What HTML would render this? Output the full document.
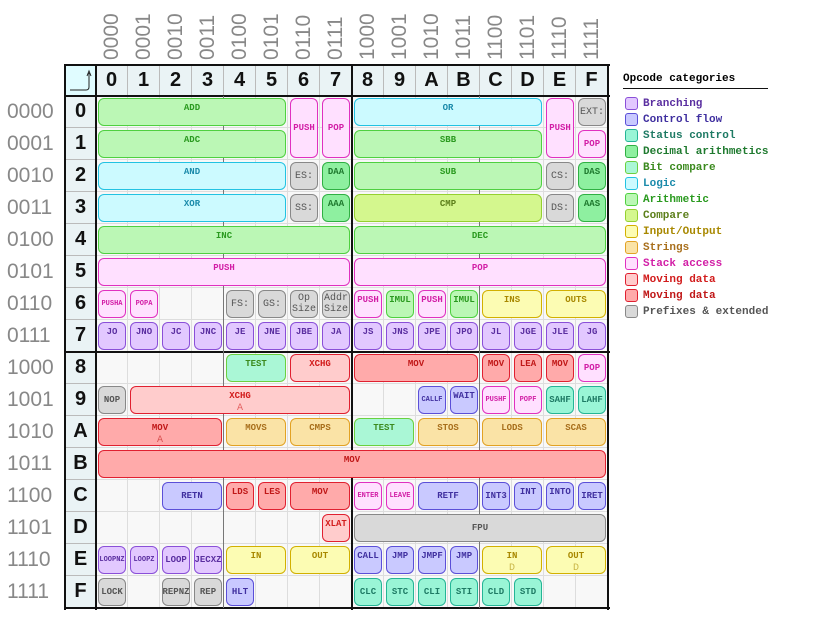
<!DOCTYPE html>
<html><head><meta charset="utf-8">
<style>
body{margin:0;width:816px;height:624px;background:#fff;position:relative;overflow:hidden;font-family:"Liberation Sans",sans-serif}
.abs{position:absolute}
.bin{position:absolute;color:#888;font-size:21px;font-family:"Liberation Sans",sans-serif}
.hd{position:absolute;background:#eaf3f5;border-right:1px solid #bbb;box-sizing:border-box;font-weight:bold;font-size:20px;display:flex;align-items:center;justify-content:center;color:#111}
.cell{position:absolute;width:32px;height:32px;box-sizing:border-box;border-right:1px solid #ddd;border-bottom:1px solid #ddd;background:#f8f8f8}
.box{position:absolute;box-sizing:border-box;border:1.5px solid;border-radius:6px;font-family:"Liberation Mono",monospace;font-weight:bold;font-size:9px;display:flex;flex-direction:column;align-items:center;text-align:center;line-height:11px}
.sub{font-weight:normal;font-size:10px;opacity:.6;margin-top:1px}
.leg{position:absolute;left:625px;font-family:"Liberation Mono",monospace;font-weight:bold;font-size:11px;display:flex;align-items:center}
.sw{width:11px;height:11px;border:1.5px solid;border-radius:3px;margin-right:5px}
</style></head><body>
<div id="root"></div>
<script>
const hexDigits=['0','1','2','3','4','5','6','7','8','9','A','B','C','D','E','F'];
const binLabels=['0000','0001','0010','0011','0100','0101','0110','0111','1000','1001','1010','1011','1100','1101','1110','1111'];
const catNames=['Branching','Control flow','Status control','Decimal arithmetics','Bit compare','Logic','Arithmetic','Compare','Input/Output','Strings','Stack access','Moving data','Moving data','Prefixes & extended'];
const catFill=['#e2c8ff','#c9c9ff','#99f5d6','#8ef0a0','#aaf7d6','#ccfaff','#bbf7b5','#d4f78e','#fcfcb3','#fae3a6','#ffe0ff','#ffcccc','#ffaaaa','#d9d9d9'];
const catBorder=['#8a4fd8','#5b4fd8','#25b596','#2fb043','#6ad040','#22c2e2','#4fd040','#95d030','#d2b000','#e2a224','#e030c0','#e02030','#e02030','#888888'];
const catText=['#5a2ea0','#4030a0','#1e7a64','#1f7a2f','#3b8a1e','#1a8aaa','#2a9a1f','#5c7f1a','#a88800','#a86f1c','#d21ea6','#d21c1c','#c01818','#555555'];
const catKeys=['br','cf','st','de','bc','lg','ar','cp','io','sr','sk','m1','m2','px'];
// [col,row,colspan,rowspan,label,cat,center,sub,small]
const ops=[
[0,0,6,1,'ADD','ar'],[6,0,1,2,'PUSH','sk',1],[7,0,1,2,'POP','sk',1],[8,0,6,1,'OR','lg'],[14,0,1,2,'PUSH','sk',1],[15,0,1,1,'EXT:','px',1],
[0,1,6,1,'ADC','ar'],[8,1,6,1,'SBB','ar'],[15,1,1,1,'POP','sk',1],
[0,2,6,1,'AND','lg'],[6,2,1,1,'ES:','px',1],[7,2,1,1,'DAA','de'],[8,2,6,1,'SUB','ar'],[14,2,1,1,'CS:','px',1],[15,2,1,1,'DAS','de'],
[0,3,6,1,'XOR','lg'],[6,3,1,1,'SS:','px',1],[7,3,1,1,'AAA','de'],[8,3,6,1,'CMP','cp'],[14,3,1,1,'DS:','px',1],[15,3,1,1,'AAS','de'],
[0,4,8,1,'INC','ar'],[8,4,8,1,'DEC','ar'],
[0,5,8,1,'PUSH','sk'],[8,5,8,1,'POP','sk'],
[0,6,1,1,'PUSHA','sk',1,'',1],[1,6,1,1,'POPA','sk',1,'',1],[4,6,1,1,'FS:','px',1],[5,6,1,1,'GS:','px',1],[6,6,1,1,'Op Size','px',1],[7,6,1,1,'Addr Size','px',1],
[8,6,1,1,'PUSH','sk'],[9,6,1,1,'IMUL','ar'],[10,6,1,1,'PUSH','sk'],[11,6,1,1,'IMUL','ar'],[12,6,2,1,'INS','io'],[14,6,2,1,'OUTS','io'],
[0,7,1,1,'JO','br'],[1,7,1,1,'JNO','br'],[2,7,1,1,'JC','br'],[3,7,1,1,'JNC','br'],[4,7,1,1,'JE','br'],[5,7,1,1,'JNE','br'],[6,7,1,1,'JBE','br'],[7,7,1,1,'JA','br'],
[8,7,1,1,'JS','br'],[9,7,1,1,'JNS','br'],[10,7,1,1,'JPE','br'],[11,7,1,1,'JPO','br'],[12,7,1,1,'JL','br'],[13,7,1,1,'JGE','br'],[14,7,1,1,'JLE','br'],[15,7,1,1,'JG','br'],
[4,8,2,1,'TEST','bc'],[6,8,2,1,'XCHG','m1'],[8,8,4,1,'MOV','m2'],[12,8,1,1,'MOV','m2'],[13,8,1,1,'LEA','m2'],[14,8,1,1,'MOV','m2'],[15,8,1,1,'POP','sk',1],
[0,9,1,1,'NOP','px',1],[1,9,7,1,'XCHG','m1',0,'A'],[10,9,1,1,'CALLF','cf',1,'',1],[11,9,1,1,'WAIT','cf'],[12,9,1,1,'PUSHF','sk',1,'',1],[13,9,1,1,'POPF','sk',1,'',1],[14,9,1,1,'SAHF','st',1],[15,9,1,1,'LAHF','st',1],
[0,10,4,1,'MOV','m2',0,'A'],[4,10,2,1,'MOVS','sr'],[6,10,2,1,'CMPS','sr'],[8,10,2,1,'TEST','bc'],[10,10,2,1,'STOS','sr'],[12,10,2,1,'LODS','sr'],[14,10,2,1,'SCAS','sr'],
[0,11,16,1,'MOV','m2'],
[2,12,2,1,'RETN','cf',1],[4,12,1,1,'LDS','m2'],[5,12,1,1,'LES','m2'],[6,12,2,1,'MOV','m2'],[8,12,1,1,'ENTER','sk',1,'',1],[9,12,1,1,'LEAVE','sk',1,'',1],[10,12,2,1,'RETF','cf',1],
[12,12,1,1,'INT3','cf',1],[13,12,1,1,'INT','cf'],[14,12,1,1,'INTO','cf'],[15,12,1,1,'IRET','cf',1],
[7,13,1,1,'XLAT','m1'],[8,13,8,1,'FPU','px',1],
[0,14,1,1,'LOOPNZ','br',1,'',1],[1,14,1,1,'LOOPZ','br',1,'',1],[2,14,1,1,'LOOP','br',1],[3,14,1,1,'JECXZ','br',1],[4,14,2,1,'IN','io'],[6,14,2,1,'OUT','io'],
[8,14,1,1,'CALL','cf'],[9,14,1,1,'JMP','cf'],[10,14,1,1,'JMPF','cf'],[11,14,1,1,'JMP','cf'],[12,14,2,1,'IN','io',0,'D'],[14,14,2,1,'OUT','io',0,'D'],
[0,15,1,1,'LOCK','px',1],[2,15,1,1,'REPNZ','px',1],[3,15,1,1,'REP','px',1],[4,15,1,1,'HLT','cf',1],
[8,15,1,1,'CLC','st',1],[9,15,1,1,'STC','st',1],[10,15,1,1,'CLI','st',1],[11,15,1,1,'STI','st',1],[12,15,1,1,'CLD','st',1],[13,15,1,1,'STD','st',1]
];
const root=document.getElementById('root');
const X0=96,Y0=96,S=32;
function colX(c){return X0+c*S;}
function rowY(r){return Y0+r*S;}
function mk(cls,style){const d=document.createElement('div');d.className=cls;Object.assign(d.style,style);root.appendChild(d);return d;}
for(let i=0;i<16;i++){
 const t=mk('bin',{left:(colX(i)+16-30)+'px',top:'18px',width:'60px',height:'24px',transform:'rotate(-90deg)',textAlign:'left',lineHeight:'24px'});
 t.textContent=binLabels[i];
 
 
 const l=mk('bin',{left:'7px',top:(rowY(i)+4)+'px',lineHeight:'24px'});
 l.textContent=binLabels[i];
 
 
 const h=mk('hd',{left:colX(i)+'px',top:'65px',width:'32px',height:'31px'});
 h.textContent=hexDigits[i];
 
 
 const v=mk('hd',{left:'65px',top:rowY(i)+'px',width:'31px',height:'32px',borderRight:'none',borderBottom:'1px solid #bbb'});
 v.textContent=hexDigits[i];
 
 
 for(let j=0;j<16;j++){
  const c=mk('cell',{left:colX(i)+'px',top:rowY(j)+'px'});
  
  
 }
}
const corner=mk('abs',{left:'65px',top:'65px',width:'31px',height:'31px',background:'#e0fcff'});


corner.innerHTML='<svg width="31" height="31"><path d="M5 25 H21 Q24 25 24 22 V8" fill="none" stroke="#222" stroke-width="1"/><path d="M22 11 L24 6 L26 11" fill="none" stroke="#222" stroke-width="1"/></svg>';
// structural lines
const lines=[[64,64,546,2],[64,64,2,546],[64,607,546,2],[607,64,2,546],[95,64,2,546],[64,95,546,2],[64,351,546,2],[351,64,2,546],[223,96,1,512,'#777'],[479,96,1,512,'#777']];
lines.forEach(a=>{const d=mk('abs',{left:a[0]+'px',top:a[1]+'px',width:a[2]+'px',height:a[3]+'px',background:a[4]||'#111'});
 
 });
ops.forEach(o=>{
 const k=catKeys.indexOf(o[5]);
 const w=o[2]*S-4,h=o[3]*S-4;
 const b=mk('box',{left:(colX(o[0])+2)+'px',top:(rowY(o[1])+2)+'px',width:w+'px',height:h+'px',background:catFill[k],borderColor:catBorder[k],color:catText[k],justifyContent:o[6]?'center':'flex-start',paddingTop:o[6]?'0':'4px'});
 let lbl=o[4];
 if(lbl==='Op Size'||lbl==='Addr Size'){b.style.fontWeight='normal';b.style.fontSize='10px';lbl=lbl.replace(' ','<br>');}
 if(o[8]){b.style.fontSize='7px';}
 if(lbl==='FS:'||lbl==='GS:'||lbl==='ES:'||lbl==='SS:'||lbl==='CS:'||lbl==='DS:'||lbl==='EXT:'){b.style.fontWeight='normal';b.style.fontSize='10px';}
 b.innerHTML='<span>'+lbl+'</span>'+(o[7]?'<span class="sub">'+o[7]+'</span>':'');
 
 
});
const title=mk('abs',{left:'623px',top:'73px',fontFamily:'"Liberation Mono",monospace',fontWeight:'bold',fontSize:'11px',borderBottom:'1px solid #111',paddingBottom:'3px',width:'145px'});
title.textContent='Opcode categories';


catNames.forEach((n,i)=>{
 const e=mk('leg',{top:(97+i*16)+'px',color:catText[i]});
 e.innerHTML='<div class="sw" style="background:'+catFill[i]+';border-color:'+catBorder[i]+'"></div><span>'+n+'</span>';
 
 
});
</script>
</body></html>
